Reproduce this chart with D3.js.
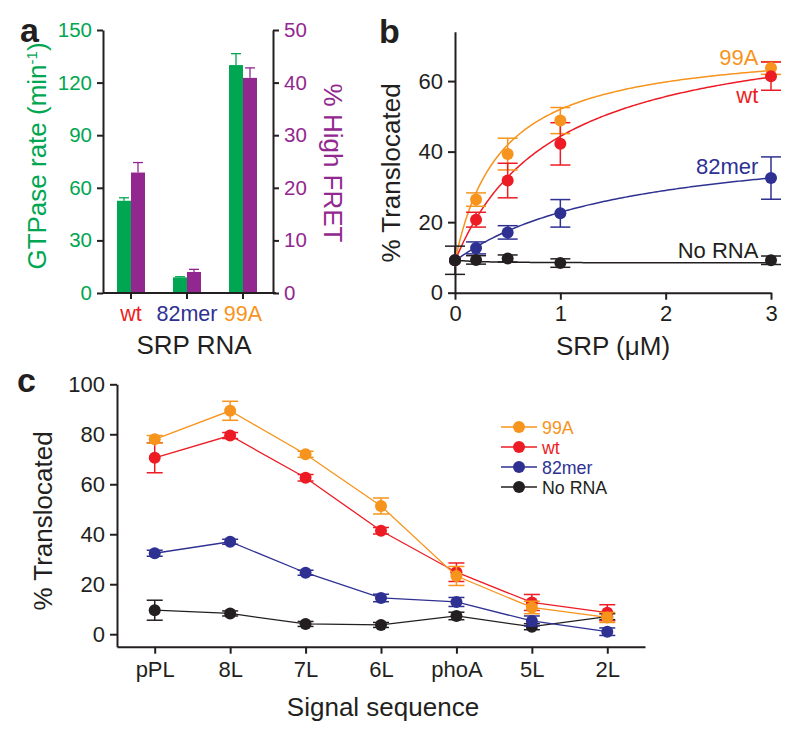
<!DOCTYPE html>
<html><head><meta charset="utf-8">
<script src="https://cdn.jsdelivr.net/npm/d3@7"></script>
<style>
html,body{margin:0;padding:0;background:#fff;}
svg text{font-family:"Liberation Sans",Arial,Helvetica,sans-serif;}
</style></head>
<body><svg id="chart" width="800" height="741"></svg>
<script>
// ---------- DATA ----------
// Panel a
const rnaCategories = ["wt", "82mer", "99A"];
const gtpaseRate = [52.6, 8.9, 130];
const gtpaseErr = [1.7, 0.4, 6.5];
const highFret = [22.9, 4.0, 40.9];
const highFretErr = [1.9, 0.5, 1.9];
const aLeftTicks = [0, 30, 60, 90, 120, 150];
const aRightTicks = [0, 10, 20, 30, 40, 50];

// Panel b
const srpConc = [0, 0.2, 0.5, 1, 3];
const seriesNames = ["99A", "wt", "82mer", "No RNA"];
const b99A = [9.2, 26.4, 39.3, 48.8, 63.7];
const b99AErr = [0, 1.9, 4.5, 3.7, 1.8];
const bWt = [9.2, 20.7, 31.8, 42.2, 61.4];
const bWtErr = [0, 2.1, 4.9, 6.0, 4.0];
const b82mer = [9.2, 12.7, 17.1, 22.5, 32.5];
const b82merErr = [0, 1.7, 1.9, 3.9, 6.0];
const bNoRNA = [9.2, 9.3, 9.7, 8.4, 9.2];
const bNoRNAErr = [4.0, 1.2, 1.0, 1.2, 1.2];
// hyperbolic fit parameters: base + max * x / (K + x)
const fitBase = [9.0, 9.0, 9.0, 9.3];
const fitMax = [61.9, 68.5, 36.3, -0.9];
const fitK = [0.44, 0.94, 1.63, 0.2];
const bXTicks = [0, 1, 2, 3];
const bYTicks = [0, 20, 40, 60];

// Panel c
const signalSeqs = ["pPL", "8L", "7L", "6L", "phoA", "5L", "2L"];
const c99A = [78.0, 89.4, 72.0, 51.3, 23.3, 10.7, 6.7];
const c99AErr = [1.5, 3.8, 1.2, 3.2, 3.8, 2.5, 2.0];
const cWt = [70.6, 79.5, 62.6, 41.4, 24.8, 12.7, 8.6];
const cWtErr = [6.0, 1.2, 1.3, 1.3, 3.7, 3.2, 3.2];
const c82mer = [32.4, 37.0, 24.6, 14.5, 12.9, 5.3, 1.0];
const c82merErr = [1.2, 1.0, 1.0, 1.5, 1.8, 2.0, 1.5];
const cNoRNA = [9.6, 8.3, 4.1, 3.7, 7.3, 3.0, 7.0];
const cNoRNAErr = [4.0, 1.0, 1.0, 1.0, 1.5, 1.2, 1.2];
const cYTicks = [0, 20, 40, 60, 80, 100];

// ---------- STYLE ----------
const GREEN = "#00a651", PURPLE = "#92278f", RED = "#ed1c24", BLUE = "#2e3192", ORANGE = "#f7941d", BLACK = "#231f20";
const seriesColors = [ORANGE, RED, BLUE, BLACK];
const catColors = [RED, BLUE, ORANGE];

const svg = d3.select("#chart");

function styleAxis(g, color) {
  g.selectAll("path.domain").attr("stroke", BLACK).attr("stroke-width", 2);
  g.selectAll(".tick line").attr("stroke", BLACK).attr("stroke-width", 2);
  g.selectAll(".tick text").attr("fill", color || BLACK).attr("font-family", "Liberation Sans, Arial, sans-serif");
}

// ---------- PANEL A ----------
(function () {
  const x = d3.scaleBand().domain(rnaCategories).range([103, 271]);
  const yL = d3.scaleLinear().domain([0, 150]).range([293, 30]);
  const yR = d3.scaleLinear().domain([0, 50]).range([293, 30]);
  const barW = 14;
  const g = svg.append("g");

  rnaCategories.forEach((c, i) => {
    const cx = x(c) + x.bandwidth() / 2;
    g.append("line").attr("x1", cx - barW / 2).attr("x2", cx - barW / 2)
      .attr("y1", yL(gtpaseRate[i])).attr("y2", yL(gtpaseRate[i] + gtpaseErr[i]))
      .attr("stroke", GREEN).attr("stroke-width", 1.3);
    g.append("line").attr("x1", cx - barW / 2 - 5).attr("x2", cx - barW / 2 + 5)
      .attr("y1", yL(gtpaseRate[i] + gtpaseErr[i])).attr("y2", yL(gtpaseRate[i] + gtpaseErr[i]))
      .attr("stroke", GREEN).attr("stroke-width", 1.3);
    g.append("rect").attr("x", cx - barW).attr("width", barW)
      .attr("y", yL(gtpaseRate[i])).attr("height", yL(0) - yL(gtpaseRate[i])).attr("fill", GREEN);
    g.append("line").attr("x1", cx + barW / 2).attr("x2", cx + barW / 2)
      .attr("y1", yR(highFret[i])).attr("y2", yR(highFret[i] + highFretErr[i]))
      .attr("stroke", PURPLE).attr("stroke-width", 1.3);
    g.append("line").attr("x1", cx + barW / 2 - 5).attr("x2", cx + barW / 2 + 5)
      .attr("y1", yR(highFret[i] + highFretErr[i])).attr("y2", yR(highFret[i] + highFretErr[i]))
      .attr("stroke", PURPLE).attr("stroke-width", 1.3);
    g.append("rect").attr("x", cx).attr("width", barW)
      .attr("y", yR(highFret[i])).attr("height", yR(0) - yR(highFret[i])).attr("fill", PURPLE);
  });

  const ax = g.append("g").attr("transform", "translate(0,293)")
    .call(d3.axisBottom(x).tickSize(6).tickSizeOuter(0).tickFormat(""));
  ax.select("path.domain").attr("d", "M103,0H276");
  styleAxis(ax);
  const al = g.append("g").attr("transform", "translate(103,0)")
    .call(d3.axisLeft(yL).tickValues(aLeftTicks).tickSize(6).tickSizeOuter(0).tickPadding(5));
  styleAxis(al, GREEN);
  al.selectAll(".tick text").attr("font-size", 20.5);
  const ar = g.append("g").attr("transform", "translate(273,0)")
    .call(d3.axisRight(yR).tickValues(aRightTicks).tickSize(6).tickSizeOuter(0).tickPadding(5));
  styleAxis(ar, PURPLE);
  ar.selectAll(".tick text").attr("font-size", 20.5);

  rnaCategories.forEach((c, i) => {
    g.append("text").attr("x", x(c) + x.bandwidth() / 2).attr("y", 321)
      .attr("text-anchor", "middle").attr("font-size", 21.5).attr("fill", catColors[i]).text(c);
  });
  g.append("text").attr("x", 194).attr("y", 354).attr("text-anchor", "middle")
    .attr("font-size", 26).attr("fill", BLACK).text("SRP RNA");

  const tl = g.append("text").attr("transform", "translate(46,156) rotate(-90)")
    .attr("text-anchor", "middle").attr("font-size", 26).attr("fill", GREEN);
  tl.append("tspan").text("GTPase rate (min");
  tl.append("tspan").attr("dy", -9).attr("font-size", 15).text("-1");
  tl.append("tspan").attr("dy", 9).text(")");
  g.append("text").attr("transform", "translate(324,163) rotate(90)")
    .attr("text-anchor", "middle").attr("font-size", 26).attr("fill", PURPLE).text("% High FRET");

  g.append("text").attr("x", 20).attr("y", 42).attr("font-size", 34).attr("font-weight", "bold")
    .attr("fill", BLACK).text("a");
})();

// ---------- PANEL B ----------
(function () {
  const x = d3.scaleLinear().domain([0, 3]).range([455, 771]);
  const y = d3.scaleLinear().domain([0, 74]).range([292.7, 31.7]);
  const g = svg.append("g");
  const vals = [b99A, bWt, b82mer, bNoRNA];
  const errs = [b99AErr, bWtErr, b82merErr, bNoRNAErr];

  const ax = g.append("g").attr("transform", "translate(0,292.7)")
    .call(d3.axisBottom(x).tickValues(bXTicks).tickSize(7).tickSizeOuter(0).tickPadding(6).tickFormat(d3.format("d")));
  styleAxis(ax);
  ax.selectAll(".tick text").attr("font-size", 22);
  const ay = g.append("g").attr("transform", "translate(455,0)")
    .call(d3.axisLeft(y).tickValues(bYTicks).tickSize(7).tickSizeOuter(0).tickPadding(5));
  styleAxis(ay);
  ay.selectAll(".tick text").attr("font-size", 22);

  const xs = d3.range(0, 3.0001, 0.02);
  const order = [0, 1, 2, 3];
  order.forEach(s => {
    const line = d3.line().x(d => x(d)).y(d => y(fitBase[s] + fitMax[s] * d / (fitK[s] + d)));
    g.append("path").attr("d", line(xs)).attr("fill", "none")
      .attr("stroke", seriesColors[s]).attr("stroke-width", 1.5);
  });
  order.forEach(s => {
    srpConc.forEach((c, i) => {
      const e = errs[s][i];
      if (e > 0) {
        const cx = x(c);
        g.append("line").attr("x1", cx).attr("x2", cx).attr("y1", y(vals[s][i] - e)).attr("y2", y(vals[s][i] + e))
          .attr("stroke", seriesColors[s]).attr("stroke-width", 1.5);
        [vals[s][i] - e, vals[s][i] + e].forEach(v => {
          g.append("line").attr("x1", cx - 10).attr("x2", cx + 10).attr("y1", y(v)).attr("y2", y(v))
            .attr("stroke", seriesColors[s]).attr("stroke-width", 1.5);
        });
      }
    });
  });
  order.forEach(s => {
    g.selectAll(null).data(srpConc).enter().append("circle")
      .attr("cx", d => x(d)).attr("cy", (d, i) => y(vals[s][i])).attr("r", 6)
      .attr("fill", seriesColors[s]);
  });

  const labelVals = [64.6, 53.8, 33.7, 9.8];
  seriesNames.forEach((n, s) => {
    g.append("text").attr("x", x(2.88)).attr("y", y(labelVals[s])).attr("text-anchor", "end")
      .attr("font-size", 22).attr("fill", seriesColors[s]).text(n);
  });

  g.append("text").attr("x", x(1.5)).attr("y", 355).attr("text-anchor", "middle")
    .attr("font-size", 26).attr("fill", BLACK).text("SRP (\u03BCM)");
  g.append("text").attr("transform", "translate(400,173) rotate(-90)")
    .attr("text-anchor", "middle").attr("font-size", 26).attr("fill", BLACK).text("% Translocated");
  g.append("text").attr("x", 379).attr("y", 43).attr("font-size", 34).attr("font-weight", "bold")
    .attr("fill", BLACK).text("b");
})();

// ---------- PANEL C ----------
(function () {
  const x = d3.scalePoint().domain(signalSeqs).range([117, 645]).padding(0.5);
  const y = d3.scaleLinear().domain([-5, 100]).range([646.7, 384.3]);
  const g = svg.append("g");
  const vals = [c99A, cWt, c82mer, cNoRNA];
  const errs = [c99AErr, cWtErr, c82merErr, cNoRNAErr];

  const ax = g.append("g").attr("transform", "translate(0,646.7)")
    .call(d3.axisBottom(x).tickSize(7).tickSizeOuter(0).tickPadding(8));
  styleAxis(ax);
  ax.selectAll(".tick text").attr("font-size", 22);
  const ay = g.append("g").attr("transform", "translate(117,0)")
    .call(d3.axisLeft(y).tickValues(cYTicks).tickSize(7).tickSizeOuter(0).tickPadding(5));
  styleAxis(ay);
  ay.selectAll(".tick text").attr("font-size", 22);

  const drawOrder = [3, 2, 1, 0];
  drawOrder.forEach(s => {
    const line = d3.line().x((d, i) => x(signalSeqs[i])).y(d => y(d));
    g.append("path").attr("d", line(vals[s])).attr("fill", "none")
      .attr("stroke", seriesColors[s]).attr("stroke-width", 1.3);
    signalSeqs.forEach((c, i) => {
      const e = errs[s][i], cx = x(c);
      g.append("line").attr("x1", cx).attr("x2", cx).attr("y1", y(vals[s][i] - e)).attr("y2", y(vals[s][i] + e))
        .attr("stroke", seriesColors[s]).attr("stroke-width", 1.5);
      [vals[s][i] - e, vals[s][i] + e].forEach(v => {
        g.append("line").attr("x1", cx - 8).attr("x2", cx + 8).attr("y1", y(v)).attr("y2", y(v))
          .attr("stroke", seriesColors[s]).attr("stroke-width", 1.5);
      });
    });
    g.selectAll(null).data(vals[s]).enter().append("circle")
      .attr("cx", (d, i) => x(signalSeqs[i])).attr("cy", d => y(d)).attr("r", 6)
      .attr("fill", seriesColors[s]);
  });

  // legend
  seriesNames.forEach((n, s) => {
    const ly = 427 + s * 20;
    g.append("line").attr("x1", 501).attr("x2", 537).attr("y1", ly).attr("y2", ly)
      .attr("stroke", seriesColors[s]).attr("stroke-width", 1.5);
    g.append("circle").attr("cx", 519).attr("cy", ly).attr("r", 6).attr("fill", seriesColors[s]);
    g.append("text").attr("x", 542).attr("y", ly + 6.5).attr("font-size", 17.8)
      .attr("fill", seriesColors[s]).text(n);
  });

  g.append("text").attr("x", 383).attr("y", 716).attr("text-anchor", "middle")
    .attr("font-size", 26).attr("fill", BLACK).text("Signal sequence");
  g.append("text").attr("transform", "translate(52,521) rotate(-90)")
    .attr("text-anchor", "middle").attr("font-size", 26).attr("fill", BLACK).text("% Translocated");
  g.append("text").attr("x", 17).attr("y", 392).attr("font-size", 34).attr("font-weight", "bold")
    .attr("fill", BLACK).text("c");
})();
</script></body></html>
